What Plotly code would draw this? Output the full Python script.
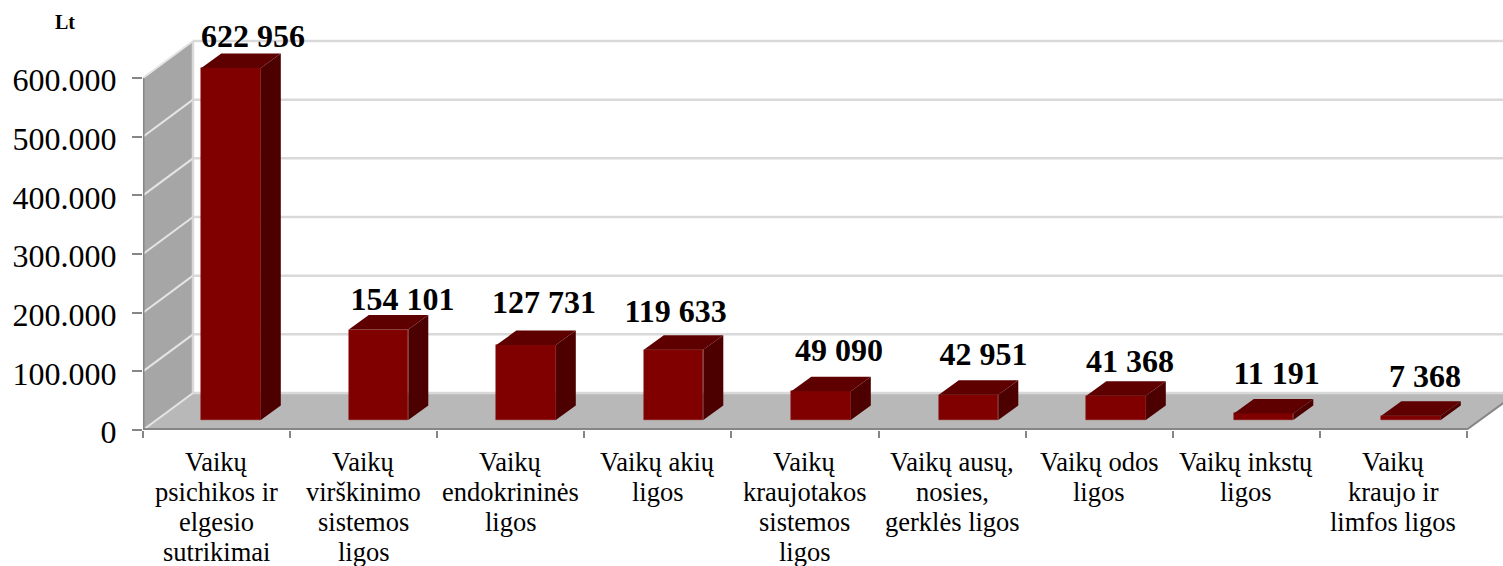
import plotly.graph_objects as go

categories = [
    "Vaikų<br>psichikos ir<br>elgesio<br>sutrikimai",
    "Vaikų<br>virškinimo<br>sistemos<br>ligos",
    "Vaikų<br>endokrininės<br>ligos",
    "Vaikų akių<br>ligos",
    "Vaikų<br>kraujotakos<br>sistemos<br>ligos",
    "Vaikų ausų,<br>nosies,<br>gerklės ligos",
    "Vaikų odos<br>ligos",
    "Vaikų inkstų<br>ligos",
    "Vaikų<br>kraujo ir<br>limfos ligos",
]
values = [622956, 154101, 127731, 119633, 49090, 42951, 41368, 11191, 7368]
value_labels = ["622 956", "154 101", "127 731", "119 633", "49 090", "42 951", "41 368", "11 191", "7 368"]
y_ticks = [0, 100000, 200000, 300000, 400000, 500000, 600000]
y_tick_labels = ["0", "100.000", "200.000", "300.000", "400.000", "500.000", "600.000"]
axis_max = 600000

# geometry of the fake-3D scene, in pixels
W, H = 1503, 566
LEFT, BASE, TOP_TICK = 143, 430, 78
CAT_W = 147.1
PX_PER_VALUE = (BASE - TOP_TICK) / axis_max
SERIF = "Liberation Serif"


def ux(px):  # horizontal pixels -> x units
    return px / CAT_W


def uy(px):  # vertical pixels -> value units
    return px / PX_PER_VALUE


WALL_DX, WALL_DY = ux(50), uy(37)
BAR_DX, BAR_DY = ux(20), uy(14.5)
BAR_LIFT = uy(10)
BAR_W = ux(59.5)
x0, x1 = -0.5, -0.5 + ux(W - LEFT)
xend = len(values) - 0.5

# (dx, dy) pixel nudges of the data labels relative to the bar's front top
label_nudge = [(22, 29), (24, 28), (18, 40), (2, 36), (18, 38), (15, 38), (14, 32), (13, 37), (14, 37)]

shown = [min(v, axis_max) for v in values]
xs = [i + ux(14.5 + 0.4 * i) for i in range(len(values))]

fig = go.Figure()

fig.add_bar(
    x=xs, y=shown, base=BAR_LIFT, width=BAR_W,
    marker=dict(color="#800000", line=dict(color="#8a1010", width=0.5)),
    hoverinfo="skip",
)

top_x, top_y, side_x, side_y = [], [], [], []
for cx, v in zip(xs, shown):
    l, r = cx - BAR_W / 2, cx + BAR_W / 2
    b, t = BAR_LIFT, BAR_LIFT + v
    top_x += [l, r, r + BAR_DX, l + BAR_DX, l, None]
    top_y += [t, t, t + BAR_DY, t + BAR_DY, t, None]
    side_x += [r, r + BAR_DX, r + BAR_DX, r, r, None]
    side_y += [b, b + BAR_DY, t + BAR_DY, t, b, None]
for fx, fy, col in ((top_x, top_y, "#5f0000"), (side_x, side_y, "#4d0000")):
    fig.add_scatter(x=fx, y=fy, mode="lines", fill="toself", fillcolor=col,
                    line=dict(width=0, color=col), hoverinfo="skip")

fig.add_scatter(
    x=[cx + ux(n[0]) for cx, n in zip(xs, label_nudge)],
    y=[BAR_LIFT + v + uy(n[1]) for v, n in zip(shown, label_nudge)],
    text=value_labels, mode="text", textposition="middle center",
    textfont=dict(family=SERIF, size=32, color="#000000"),
    texttemplate="<b>%{text}</b>", cliponaxis=False, hoverinfo="skip",
)

# category labels, one annotation per line so the line pitch can follow the reference
annotations = [dict(
    text="<b>Lt</b>", x=(65 - LEFT) / (W - LEFT), y=(BASE - 22) / BASE, xref="paper", yref="paper",
    xanchor="center", yanchor="middle", showarrow=False,
    font=dict(family=SERIF, size=20, color="#000000"),
)]
for i, cat in enumerate(categories):
    for n, line in enumerate(cat.split("<br>")):
        annotations.append(dict(
            text=line, x=i, y=-(31.5 + 30.3 * n) / BASE, xref="x", yref="paper",
            xanchor="center", yanchor="middle", showarrow=False,
            font=dict(family=SERIF, size=26.5, color="#000000"),
        ))

shapes = []
GRID = "#d9d9d9"
AXIS = "#868686"
# left wall and floor
shapes.append(dict(type="path", layer="below", line_width=0, fillcolor="#a6a6a6",
                   path=f"M{x0},0 L{x0},{axis_max} L{x0+WALL_DX},{axis_max+WALL_DY} L{x0+WALL_DX},{WALL_DY} Z"))
shapes.append(dict(type="path", layer="below", line_width=0, fillcolor="#b8b8b8",
                   path=f"M{x0},0 L{x0+WALL_DX},{WALL_DY} L{xend+WALL_DX},{WALL_DY} L{xend},0 Z"))
# gridlines on walls
for v in y_ticks:
    shapes.append(dict(type="line", layer="below", x0=x0 + WALL_DX, x1=x1, y0=v + WALL_DY, y1=v + WALL_DY,
                       line=dict(color=GRID, width=2.5)))
    shapes.append(dict(type="line", layer="below", x0=x0, x1=x0 + WALL_DX, y0=v, y1=v + WALL_DY,
                       line=dict(color="#e4e4e4", width=2)))
shapes.append(dict(type="line", layer="below", x0=x0 + WALL_DX, x1=x0 + WALL_DX, y0=WALL_DY, y1=axis_max + WALL_DY,
                   line=dict(color=GRID, width=2.5)))
# axis lines
shapes.append(dict(type="line", layer="below", x0=x0, x1=x0, y0=0, y1=axis_max, line=dict(color=AXIS, width=3)))
shapes.append(dict(type="line", layer="below", x0=x0, x1=xend, y0=uy(0.5), y1=uy(0.5), line=dict(color=AXIS, width=3)))
shapes.append(dict(type="line", layer="below", x0=xend, x1=xend + WALL_DX, y0=uy(0.5), y1=WALL_DY, line=dict(color=AXIS, width=2)))

fig.update_layout(
    width=W, height=H, autosize=False, showlegend=False,
    margin=dict(l=LEFT, r=0, t=0, b=H - BASE, pad=0),
    paper_bgcolor="#ffffff", plot_bgcolor="#ffffff",
    font=dict(family=SERIF, color="#000000"),
    shapes=shapes, bargap=0, annotations=annotations,
    xaxis=dict(
        range=[x0, x1], showgrid=False, zeroline=False, showline=False,
        tickmode="array", tickvals=[i - 0.5 for i in range(len(values) + 1)], showticklabels=False,
        ticks="outside", ticklen=7, tickwidth=2, tickcolor=AXIS,
        automargin=False, fixedrange=True,
    ),
    yaxis=dict(
        range=[0, uy(BASE)], showgrid=False, zeroline=False, showline=False,
        tickmode="array", tickvals=y_ticks, ticktext=y_tick_labels,
        ticks="outside", ticklen=10, tickwidth=2, tickcolor=AXIS, ticklabelstandoff=9,
        ticklabelshift=2,
        tickfont=dict(family=SERIF, size=32, color="#000000"),
        automargin=False, fixedrange=True,
    ),
)

fig.write_html(
    "out.html", config=dict(displayModeBar=False),
    post_script="document.body.style.margin='0';document.documentElement.style.overflow='hidden';",
)
